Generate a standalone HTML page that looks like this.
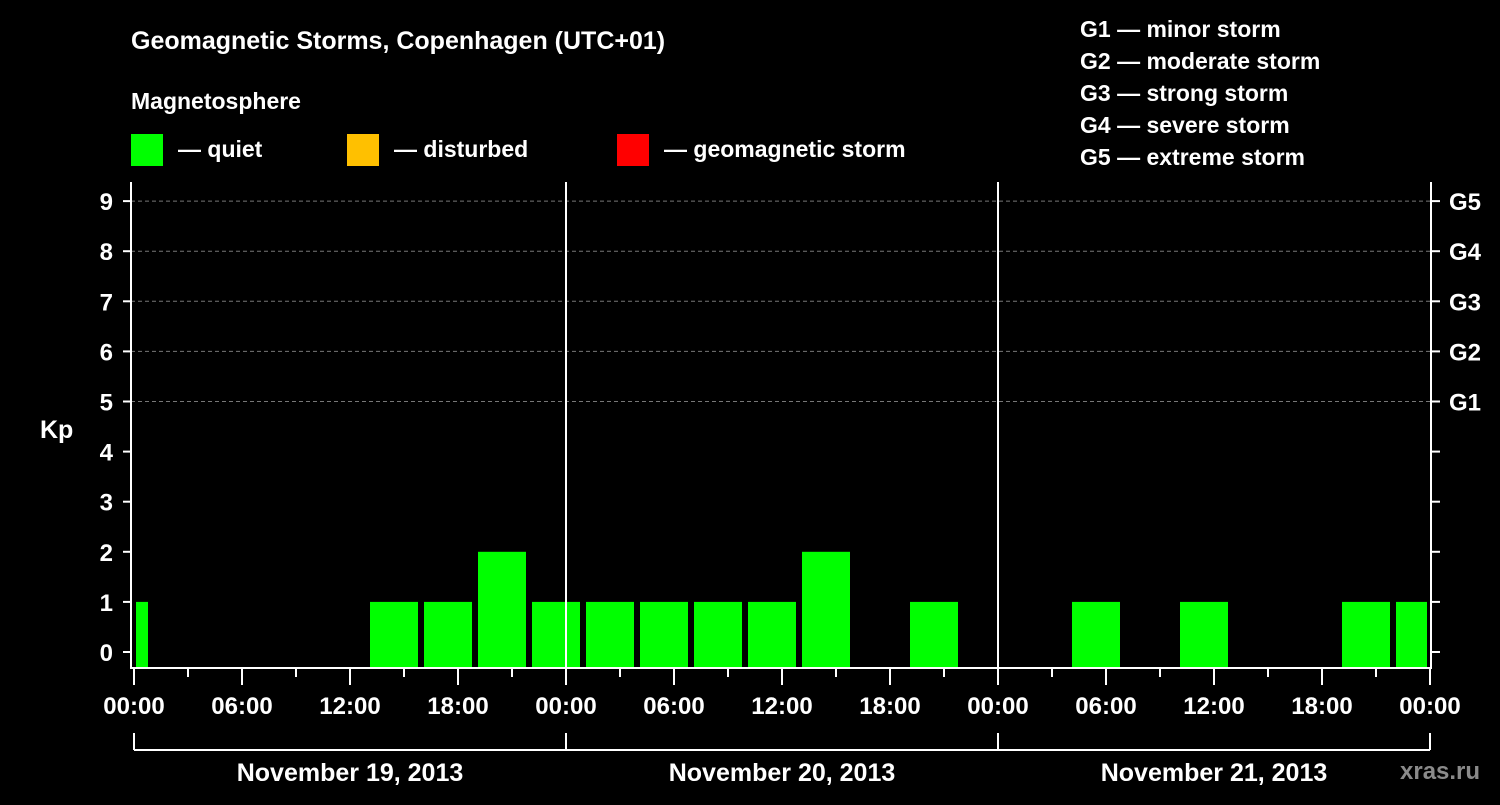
<!DOCTYPE html>
<html><head><meta charset="utf-8"><style>
body{margin:0;background:#000;width:1500px;height:800px;overflow:hidden}
svg text{font-family:"Liberation Sans",Arial,sans-serif;font-weight:bold;fill:#fff}
</style></head><body>
<svg id="c" width="1500" height="800" xmlns="http://www.w3.org/2000/svg">
<text x="131" y="49" font-size="25">Geomagnetic Storms, Copenhagen (UTC+01)</text>
<text x="131" y="109" font-size="23">Magnetosphere</text>
<g><rect x="131" y="134" width="32" height="32" fill="#00ff00"/><text x="178" y="157" font-size="23">— quiet</text></g>
<g><rect x="347" y="134" width="32" height="32" fill="#ffc000"/><text x="394" y="157" font-size="23">— disturbed</text></g>
<g><rect x="617" y="134" width="32" height="32" fill="#ff0000"/><text x="664" y="157" font-size="23">— geomagnetic storm</text></g>
<g font-size="23">
<text x="1080" y="37">G1 — minor storm</text>
<text x="1080" y="69">G2 — moderate storm</text>
<text x="1080" y="101">G3 — strong storm</text>
<text x="1080" y="133">G4 — severe storm</text>
<text x="1080" y="165">G5 — extreme storm</text>
</g>
<text x="40" y="438" font-size="25">Kp</text>
<text x="1400" y="779" font-size="24" fill="#888" style="fill:#8a8a8a">xras.ru</text>
<g id="plot"></g>
</svg>
<script>
const days=["November 19, 2013","November 20, 2013","November 21, 2013"];
const barStartHours=[-2,1,4,7,10,13,16,19,22,25,28,31,34,37,40,43,46,49,52,55,58,61,64,67,70];
const kpValues=[1,0,0,0,0,1,1,2,1,1,1,1,1,2,0,1,0,0,1,0,1,0,0,1,1];
const yTicks=[0,1,2,3,4,5,6,7,8,9];
const gLabels=["G1","G2","G3","G4","G5"];
const timeLabels=["00:00","06:00","12:00","18:00"];
const NS="http://www.w3.org/2000/svg";
const X0=134,PX_H=18,YB=652,PX_K=50.1,TOP=182,BOT=668,XEND=1431;
const x=h=>X0+h*PX_H, y=v=>YB-v*PX_K;
const g=document.getElementById('plot');
function el(t,a,p){const e=document.createElementNS(NS,t);for(const k in a)e.setAttribute(k,a[k]);(p||g).appendChild(e);return e;}
// grid lines for G levels
gLabels.forEach((l,i)=>{const v=5+i;
 const ln=el('line',{x1:131,x2:XEND,y1:y(v),y2:y(v),stroke:'#777','stroke-dasharray':'4,3','stroke-width':1});
 
 
 const t=el('text',{x:1449,y:y(v)+9,'font-size':24});t.textContent=l;
 
 
});
// bars
barStartHours.forEach((h,i)=>{const v=kpValues[i];if(v<=0)return;
 let a=Math.max(0,h),b=Math.min(72,h+3);
 let x1=x(a)+(h>=0?2:2),x2=x(b)-(h+3<=72?4:3);
 const r=el('rect',{x:x1,y:y(v),width:x2-x1,height:BOT-y(v),fill:v>=5?'#ff0000':v>=4?'#ffc000':'#00ff00'});
 
 
});
// axes
el('line',{x1:131,x2:131,y1:TOP,y2:BOT+1,stroke:'#fff','stroke-width':2});
el('line',{x1:XEND,x2:XEND,y1:TOP,y2:BOT+1,stroke:'#fff','stroke-width':2});
el('line',{x1:130,x2:XEND+1,y1:BOT,y2:BOT,stroke:'#fff','stroke-width':2});
[1,2].forEach(d=>{const ln=el('line',{x1:x(24*d),x2:x(24*d),y1:TOP,y2:BOT,stroke:'#fff','stroke-width':2});
 });
yTicks.forEach(v=>{el('line',{x1:123,x2:131,y1:y(v),y2:y(v),stroke:'#fff','stroke-width':2});
 el('line',{x1:XEND,x2:XEND+9,y1:y(v),y2:y(v),stroke:'#fff','stroke-width':2});
 const t=el('text',{x:113,y:y(v)+9,'font-size':24,'text-anchor':'end'});t.textContent=v;
 });
for(let h=0;h<=72;h+=3){const major=h%6==0;
 el('line',{x1:x(h),x2:x(h),y1:BOT,y2:BOT+(major?17:9),stroke:'#fff','stroke-width':2});
 if(major){const t=el('text',{x:x(h),y:714,'font-size':24,'text-anchor':'middle'});t.textContent=timeLabels[(h/6)%4];
 }}
el('line',{x1:x(0),x2:x(72),y1:750,y2:750,stroke:'#fff','stroke-width':2});
for(let d=0;d<=3;d++)el('line',{x1:x(24*d),x2:x(24*d),y1:733,y2:750,stroke:'#fff','stroke-width':2});
days.forEach((s,d)=>{const t=el('text',{x:x(24*d+12),y:781,'font-size':25,'text-anchor':'middle'});t.textContent=s;
 });
</script>
</body></html>
